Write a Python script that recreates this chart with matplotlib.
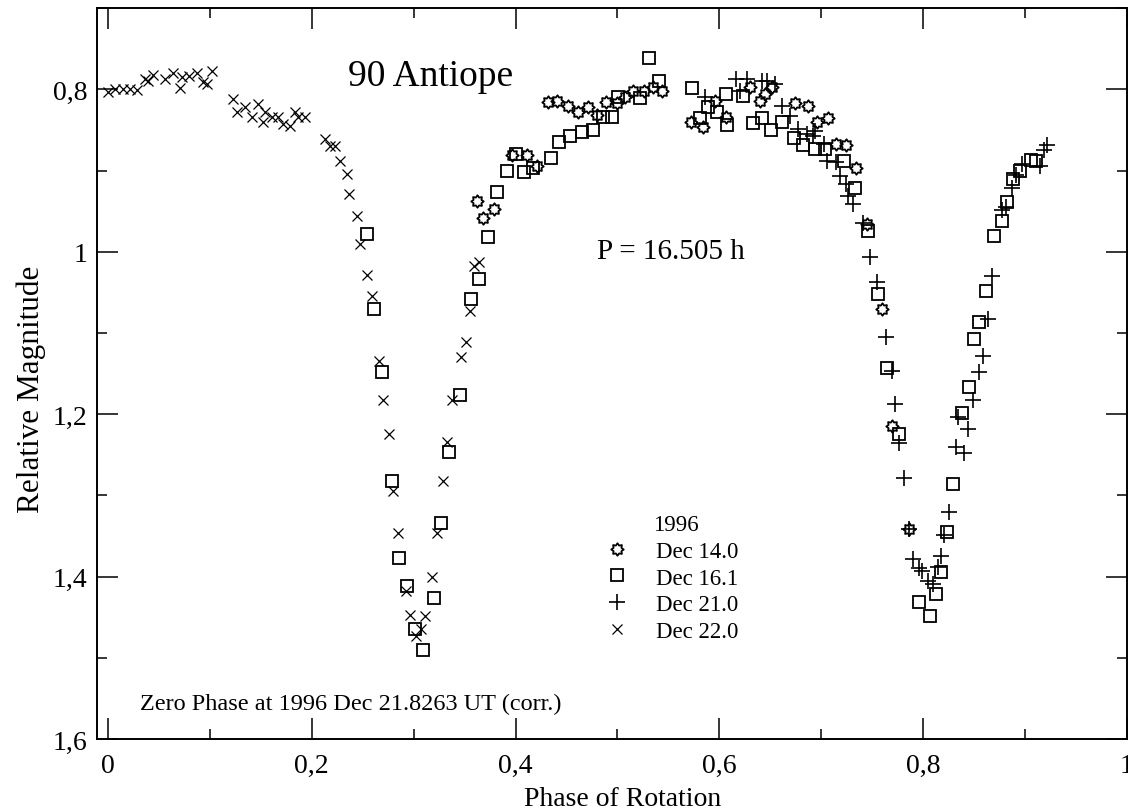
import numpy as np
import matplotlib
matplotlib.use("Agg")
import matplotlib.pyplot as plt
from matplotlib.path import Path
from matplotlib.ticker import MultipleLocator, FuncFormatter

plt.rcParams['font.family'] = ['Liberation Serif', 'DejaVu Serif']

# Dec 14.0
ph_14 = [0.362, 0.368, 0.379, 0.397, 0.411, 0.421, 0.432, 0.441, 0.451, 0.461,
         0.471, 0.480, 0.489, 0.500, 0.507, 0.515, 0.526, 0.535, 0.544, 0.572,
         0.584, 0.596, 0.607, 0.630, 0.640, 0.645, 0.652, 0.674, 0.687, 0.696,
         0.707, 0.715, 0.724, 0.734, 0.745, 0.760, 0.769, 0.786]
mag_14 = [0.937, 0.958, 0.947, 0.881, 0.881, 0.894, 0.816, 0.814, 0.820, 0.828,
          0.822, 0.831, 0.816, 0.817, 0.809, 0.802, 0.802, 0.797, 0.802, 0.840,
          0.846, 0.814, 0.834, 0.797, 0.814, 0.806, 0.797, 0.817, 0.821, 0.840,
          0.835, 0.867, 0.868, 0.897, 0.966, 1.071, 1.215, 1.342]

# Dec 16.1
ph_16 = [0.254, 0.261, 0.269, 0.279, 0.286, 0.293, 0.301, 0.309, 0.320, 0.327,
         0.335, 0.345, 0.356, 0.364, 0.373, 0.382, 0.392, 0.400, 0.408, 0.417,
         0.435, 0.443, 0.453, 0.465, 0.476, 0.486, 0.495, 0.501, 0.522, 0.531,
         0.541, 0.573, 0.581, 0.589, 0.598, 0.607, 0.608, 0.623, 0.633, 0.642,
         0.651, 0.662, 0.673, 0.682, 0.694, 0.704, 0.722, 0.733, 0.746, 0.756,
         0.765, 0.776, 0.796, 0.807, 0.813, 0.818, 0.823, 0.829, 0.838, 0.845,
         0.850, 0.855, 0.862, 0.870, 0.877, 0.882, 0.888, 0.895, 0.906, 0.911]
mag_16 = [0.978, 1.071, 1.148, 1.282, 1.377, 1.411, 1.464, 1.491, 1.427, 1.334,
          1.247, 1.177, 1.058, 1.033, 0.982, 0.927, 0.900, 0.879, 0.902, 0.897,
          0.884, 0.865, 0.858, 0.852, 0.850, 0.834, 0.834, 0.809, 0.811, 0.761,
          0.790, 0.798, 0.835, 0.822, 0.828, 0.806, 0.844, 0.808, 0.841, 0.835,
          0.850, 0.840, 0.860, 0.869, 0.873, 0.873, 0.888, 0.921, 0.974, 1.052,
          1.143, 1.224, 1.431, 1.449, 1.422, 1.394, 1.345, 1.286, 1.199, 1.166,
          1.108, 1.087, 1.048, 0.981, 0.962, 0.939, 0.910, 0.900, 0.887, 0.888]

# Dec 21.0
ph_21 = [0.586, 0.616, 0.620, 0.627, 0.642, 0.647, 0.655, 0.662, 0.669, 0.677,
         0.686, 0.692, 0.694, 0.703, 0.706, 0.715, 0.718, 0.724, 0.726, 0.731,
         0.741, 0.748, 0.755, 0.764, 0.769, 0.772, 0.776, 0.781, 0.786, 0.790,
         0.796, 0.799, 0.805, 0.810, 0.815, 0.818, 0.821, 0.825, 0.832, 0.834,
         0.840, 0.844, 0.849, 0.855, 0.859, 0.864, 0.868, 0.877, 0.881, 0.887,
         0.891, 0.897, 0.915, 0.919, 0.922]
mag_21 = [0.809, 0.787, 0.802, 0.787, 0.790, 0.790, 0.793, 0.820, 0.833, 0.849,
          0.855, 0.857, 0.851, 0.867, 0.888, 0.889, 0.907, 0.916, 0.931, 0.941,
          0.964, 1.006, 1.037, 1.105, 1.147, 1.188, 1.236, 1.279, 1.342, 1.378,
          1.390, 1.393, 1.406, 1.409, 1.388, 1.375, 1.349, 1.321, 1.240, 1.203,
          1.248, 1.218, 1.183, 1.148, 1.128, 1.083, 1.030, 0.949, 0.945, 0.922,
          0.906, 0.892, 0.894, 0.875, 0.868]

# Dec 22.0
ph_22 = [0.000, 0.007, 0.015, 0.022, 0.028, 0.036, 0.039, 0.044, 0.056, 0.064,
         0.071, 0.073, 0.079, 0.087, 0.093, 0.097, 0.102, 0.123, 0.127, 0.134,
         0.141, 0.147, 0.152, 0.154, 0.161, 0.167, 0.172, 0.179, 0.184, 0.186,
         0.193, 0.213, 0.218, 0.223, 0.228, 0.235, 0.237, 0.244, 0.247, 0.254,
         0.259, 0.266, 0.270, 0.276, 0.280, 0.285, 0.292, 0.296, 0.302, 0.307,
         0.311, 0.318, 0.323, 0.329, 0.333, 0.338, 0.346, 0.351, 0.355, 0.359,
         0.364]
mag_22 = [0.803, 0.799, 0.799, 0.799, 0.801, 0.787, 0.790, 0.782, 0.787, 0.780,
          0.798, 0.785, 0.783, 0.780, 0.791, 0.793, 0.777, 0.812, 0.828, 0.822,
          0.834, 0.818, 0.840, 0.828, 0.834, 0.834, 0.843, 0.845, 0.828, 0.834,
          0.834, 0.861, 0.870, 0.870, 0.888, 0.904, 0.929, 0.956, 0.990, 1.028,
          1.054, 1.135, 1.183, 1.225, 1.295, 1.346, 1.418, 1.447, 1.473, 1.464,
          1.449, 1.401, 1.346, 1.282, 1.234, 1.183, 1.129, 1.111, 1.073, 1.018,
          1.012]

# kleines Zahnrad-Symbol fuer Dec 14.0
ang = np.linspace(0, 2 * np.pi, 17)[:-1] + np.pi / 2
rad = np.where(np.arange(16) % 2 == 0, 1.0, 0.68)
verts = np.column_stack([rad * np.cos(ang), rad * np.sin(ang)])
verts = np.vstack([verts, verts[:1]])
gear = Path(verts, closed=True)

fig = plt.figure(figsize=(11.28, 8.12), dpi=100)
ax = fig.add_axes([0.086, 0.0887, 0.913, 0.900])

ax.plot(ph_14, mag_14, linestyle='none', marker=gear, ms=9, mfc='none',
        mec='black', mew=1.3, label='Dec 14.0')
ax.plot(ph_16, mag_16, linestyle='none', marker='s', ms=8, mfc='none',
        mec='black', mew=1.3, label='Dec 16.1')
ax.plot(ph_21, mag_21, linestyle='none', marker='+', ms=12, mec='black',
        mew=1.2, label='Dec 21.0')
ax.plot(ph_22, mag_22, linestyle='none', marker='x', ms=7, mec='black',
        mew=0.9, label='Dec 22.0')

ax.set_xlim(-0.0108, 1.0)
ax.set_ylim(1.6, 0.7)

fmt = FuncFormatter(lambda v, p: ('%g' % round(v, 3)).replace('.', ','))
ax.xaxis.set_major_locator(MultipleLocator(0.2))
ax.xaxis.set_minor_locator(MultipleLocator(0.1))
ax.yaxis.set_major_locator(MultipleLocator(0.2))
ax.yaxis.set_minor_locator(MultipleLocator(0.1))
ax.xaxis.set_major_formatter(fmt)
ax.yaxis.set_major_formatter(fmt)
ax.tick_params(which='both', direction='in', top=True, right=True,
               labelsize=20, width=1.1)
ax.tick_params(which='major', length=15, pad=7)
ax.tick_params(which='minor', length=7.5)
ax.tick_params(axis='x', which='major', pad=10)
for s in ax.spines.values():
    s.set_linewidth(1.4)

ax.set_xlabel('Phase of Rotation', fontsize=20)
ax.xaxis.set_label_coords(0.51, -0.065)
ax.set_ylabel('Relative Magnitude', fontsize=22.5)
ax.yaxis.set_label_coords(-0.05, 0.48)

ax.text(0.2355, 0.783, '90 Antiope', fontsize=27, va='center', ha='left')
ax.text(0.48, 0.999, 'P = 16.505 h', fontsize=21, va='center', ha='left')
ax.text(0.031, 1.556, 'Zero Phase at 1996 Dec 21.8263 UT (corr.)',
        fontsize=17.5, va='center', ha='left')
ax.text(0.540, 0.293, '1996', transform=ax.transAxes, fontsize=16.5,
        va='center', ha='left')

ax.legend(loc='upper left', bbox_to_anchor=(0.492, 0.271), frameon=False,
          fontsize=16.5, handlelength=1.2, handletextpad=1.1,
          labelspacing=0.24, borderpad=0, borderaxespad=0)

plt.savefig('out.png', dpi=100)
